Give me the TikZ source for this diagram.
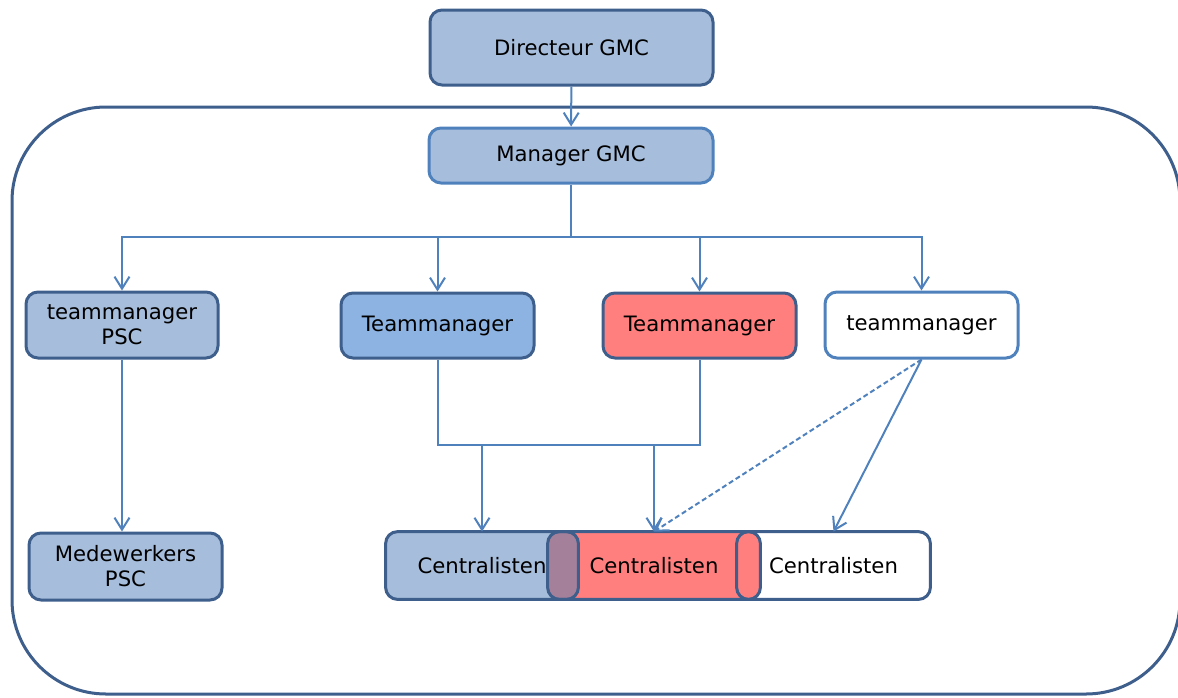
\documentclass[tikz,border=0pt]{standalone}
\usepackage{fontspec}
\setmainfont{DejaVu Sans}
\usetikzlibrary{arrows.meta}
\definecolor{boxblue}{RGB}{166,189,219}
\definecolor{midblue}{RGB}{141,179,226}
\definecolor{boxred}{RGB}{255,127,127}
\definecolor{boxmix}{RGB}{165,128,155}
\definecolor{darkedge}{RGB}{62,94,140}
\definecolor{lightedge}{RGB}{79,129,189}
\tikzset{
  box/.style={rectangle, rounded corners=6pt, line width=1.5pt, draw=darkedge,
    align=center, font=\fontsize{10.6}{12.5}\selectfont},
  lightbox/.style={box, draw=lightedge},
  cbox/.style={rectangle, rounded corners=6pt, minimum width=96pt, minimum height=33.5pt,
    font=\fontsize{10.6}{12.5}\selectfont},
  edge/.style={rounded corners=6pt, line width=1.5pt, draw=darkedge},
  link/.style={lightedge, line width=1pt},
  arr/.style={link, -{Straight Barb[length=6pt,width=7.5pt]}},
}
\begin{document}
\begin{tikzpicture}[x=0.5pt, y=-0.5pt]
\useasboundingbox (0,0) rectangle (1178,697);
\draw [darkedge, line width=1.5pt, rounded corners=47pt] (12,107) rectangle (1180,694);

\node [box, fill=boxblue, minimum width=141.5pt, minimum height=37.5pt] (dir) at (571.5,47.5) {Directeur GMC};
\node [lightbox, fill=boxblue, minimum width=142pt, minimum height=27.5pt] (mgr) at (571,155.5) {Manager GMC};

\node [box, fill=boxblue, minimum width=96pt, minimum height=33pt] (tpsc) at (122,325) {teammanager\\PSC};
\node [box, fill=midblue, minimum width=96.5pt, minimum height=32.5pt] (tblue) at (437.5,325.5) {Teammanager};
\node [box, fill=boxred, minimum width=96.5pt, minimum height=32.5pt] (tred) at (699.5,325.5) {Teammanager};
\node [lightbox, fill=white, minimum width=96.5pt, minimum height=33pt] (twhite) at (921.5,325) {teammanager};

\node [box, fill=boxblue, minimum width=96.5pt, minimum height=33.5pt] (mpsc) at (125.5,566.5) {Medewerkers\\PSC};

\node [cbox, fill=white, minimum width=96.5pt] (cw) at (833.5,565.5) {Centralisten};
\node [cbox, fill=boxred, minimum width=106pt] (cr) at (654,565.5) {Centralisten};
\node [cbox, fill=boxblue] (cb) at (482,565.5) {Centralisten};
\begin{scope}
\clip [rounded corners=6pt] (cb.south west) rectangle (cb.north east);
\fill [boxmix, rounded corners=6pt] (cr.south west) rectangle (cr.north east);
\end{scope}
\foreach \n in {cb,cr,cw}
  \draw [edge] (\n.south west) rectangle (\n.north east);

\coordinate (bus) at (571,237);
\coordinate (join) at (568,445);

\draw [arr] (dir) -- (mgr);
\draw [link] (mgr) -- (bus);
\draw [arr] (bus) -| (tpsc);
\draw [arr] (bus) -| (tblue);
\draw [arr] (bus) -| (tred);
\draw [arr] (bus) -| (twhite);
\draw [arr] (tpsc) -- (tpsc |- mpsc.north);
\draw [link] (tblue) |- (join) -| (tred);
\draw [arr] (cb.north |- join) -- (cb);
\draw [arr] (cr.north |- join) -- (cr);
\draw [arr, dash pattern=on 2.5pt off 1.5pt] (twhite.south) -- (cr.north);
\draw [arr] (twhite.south) -- (cw.north);
\end{tikzpicture}
\end{document}
